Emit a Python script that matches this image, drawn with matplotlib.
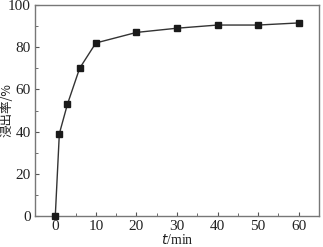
import matplotlib
matplotlib.use('Agg')
import matplotlib.pyplot as plt
from matplotlib.ticker import MultipleLocator

plt.rcParams['font.family'] = ['Liberation Serif', 'Noto Sans CJK SC']

t = [0, 1, 3, 6, 10, 20, 30, 40, 50, 60]
rate = [0, 39, 53, 70, 82, 87, 89, 90.5, 90.5, 91.5]

fig = plt.figure(figsize=(3.23, 2.47), dpi=100)
ax = fig.add_axes([35 / 323, 31 / 247, 284 / 323, 211 / 247])

ax.plot(t, rate, color='#333333', lw=1.0, marker='s', ms=5,
        mfc='#1a1a1a', mec='#1a1a1a', clip_on=False, zorder=3)

ax.set_xlim(-5, 65)
ax.set_ylim(0, 100)
ax.xaxis.set_major_locator(MultipleLocator(10))
ax.xaxis.set_minor_locator(MultipleLocator(5))
ax.yaxis.set_major_locator(MultipleLocator(20))
ax.yaxis.set_minor_locator(MultipleLocator(10))
ax.tick_params(which='both', direction='in', colors='#555555',
               labelcolor='#222222', labelsize=11)
ax.tick_params(which='major', length=3)
ax.tick_params(which='minor', length=2)
ax.tick_params(axis='x', pad=3)
ax.tick_params(axis='y', pad=3)
for s in ax.spines.values():
    s.set_color('#777777')
    s.set_linewidth(1.0)

ax.set_xlabel('$t$/min', fontsize=10, color='#222222', va='center')
ax.xaxis.set_label_coords(0.5, -23.5 / 211)
ax.set_ylabel('浸出率/%', fontsize=9, color='#222222', va='center',
              family=['Noto Sans CJK SC', 'Liberation Serif'])
ax.yaxis.set_label_coords(-28 / 284, 0.5)

fig.savefig('out.png', dpi=100)
